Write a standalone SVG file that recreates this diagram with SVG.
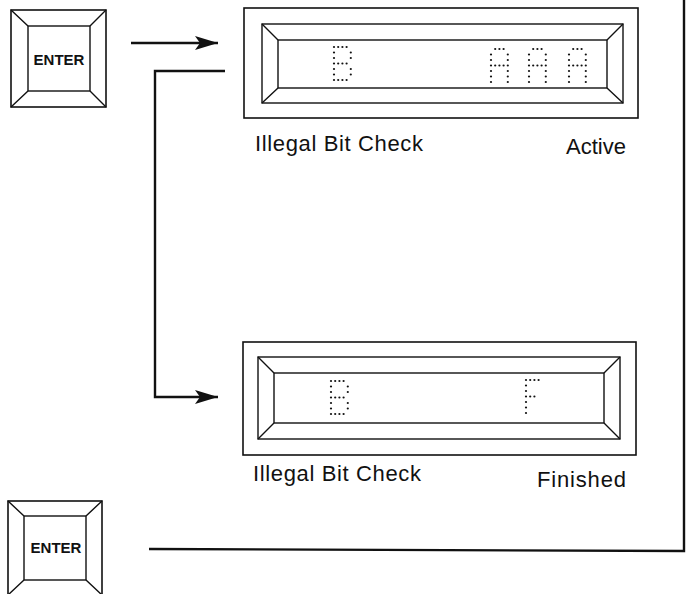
<svg xmlns="http://www.w3.org/2000/svg" xmlns:xlink="http://www.w3.org/1999/xlink" width="690" height="594" viewBox="0 0 690 594">
<style>
.bg{fill:#ffffff}
.ln{fill:none;stroke:#111;stroke-width:1.4}
.frame{fill:none;stroke:#111;stroke-width:1.6}
.conn{fill:none;stroke:#111;stroke-width:2.4}
.dot{fill:#111}
.key{font-family:"Liberation Sans",Arial,sans-serif;font-weight:bold;font-size:15px;fill:#111;text-anchor:middle}
.lbl{font-family:"Liberation Sans",Arial,sans-serif;font-size:22px;fill:#111}
</style>
<defs>
<marker id="ah" markerWidth="26" markerHeight="16" refX="23" refY="7" orient="auto" markerUnits="userSpaceOnUse">
<path d="M0,0 L23,7 L0,14 L5,7 Z" fill="#111"/>
</marker>
<g id="chB">
<circle class="dot" cx="0" cy="0" r="1.1"/><circle class="dot" cx="4.2" cy="0" r="1.1"/><circle class="dot" cx="8.4" cy="0" r="1.1"/><circle class="dot" cx="12.6" cy="0" r="1.1"/>
<circle class="dot" cx="0" cy="5.5" r="1.1"/><circle class="dot" cx="16.8" cy="5.5" r="1.1"/>
<circle class="dot" cx="0" cy="11" r="1.1"/><circle class="dot" cx="16.8" cy="11" r="1.1"/>
<circle class="dot" cx="0" cy="16.5" r="1.1"/><circle class="dot" cx="4.2" cy="16.5" r="1.1"/><circle class="dot" cx="8.4" cy="16.5" r="1.1"/><circle class="dot" cx="12.6" cy="16.5" r="1.1"/>
<circle class="dot" cx="0" cy="22" r="1.1"/><circle class="dot" cx="16.8" cy="22" r="1.1"/>
<circle class="dot" cx="0" cy="27.5" r="1.1"/><circle class="dot" cx="16.8" cy="27.5" r="1.1"/>
<circle class="dot" cx="0" cy="33" r="1.1"/><circle class="dot" cx="4.2" cy="33" r="1.1"/><circle class="dot" cx="8.4" cy="33" r="1.1"/><circle class="dot" cx="12.6" cy="33" r="1.1"/>
</g>
<g id="chA">
<circle class="dot" cx="4.2" cy="0" r="1.1"/><circle class="dot" cx="8.4" cy="0" r="1.1"/><circle class="dot" cx="12.6" cy="0" r="1.1"/>
<circle class="dot" cx="0" cy="5.5" r="1.1"/><circle class="dot" cx="16.8" cy="5.5" r="1.1"/>
<circle class="dot" cx="0" cy="11" r="1.1"/><circle class="dot" cx="16.8" cy="11" r="1.1"/>
<circle class="dot" cx="0" cy="16.5" r="1.1"/><circle class="dot" cx="4.2" cy="16.5" r="1.1"/><circle class="dot" cx="8.4" cy="16.5" r="1.1"/><circle class="dot" cx="12.6" cy="16.5" r="1.1"/><circle class="dot" cx="16.8" cy="16.5" r="1.1"/>
<circle class="dot" cx="0" cy="22" r="1.1"/><circle class="dot" cx="16.8" cy="22" r="1.1"/>
<circle class="dot" cx="0" cy="27.5" r="1.1"/><circle class="dot" cx="16.8" cy="27.5" r="1.1"/>
<circle class="dot" cx="0" cy="33" r="1.1"/><circle class="dot" cx="16.8" cy="33" r="1.1"/>
</g>
<g id="chF">
<circle class="dot" cx="0" cy="0" r="1.1"/><circle class="dot" cx="4.2" cy="0" r="1.1"/><circle class="dot" cx="8.4" cy="0" r="1.1"/><circle class="dot" cx="12.6" cy="0" r="1.1"/>
<circle class="dot" cx="0" cy="5.5" r="1.1"/>
<circle class="dot" cx="0" cy="11" r="1.1"/>
<circle class="dot" cx="0" cy="16.5" r="1.1"/><circle class="dot" cx="4.2" cy="16.5" r="1.1"/><circle class="dot" cx="8.4" cy="16.5" r="1.1"/>
<circle class="dot" cx="0" cy="22" r="1.1"/>
<circle class="dot" cx="0" cy="27.5" r="1.1"/>
<circle class="dot" cx="0" cy="33" r="1.1"/>
</g>
</defs>
<rect class="bg" x="0" y="0" width="690" height="594"/>

<g id="key-enter-top">
<rect class="frame" x="11" y="10" width="95" height="97"/>
<rect class="ln" x="28" y="26" width="62" height="65"/>
<path class="ln" d="M11,10 L28,26 M106,10 L90,26 M11,107 L28,91 M106,107 L90,91"/>
<text class="key" x="59" y="65">ENTER</text>
</g>

<g id="display-active">
<rect class="frame" x="244" y="8" width="394" height="110"/>
<rect class="ln" x="262" y="24" width="361" height="79"/>
<rect class="ln" x="278" y="40" width="329" height="48"/>
<path class="ln" d="M262,24 L278,40 M623,24 L607,40 M262,103 L278,88 M623,103 L607,88"/>
<use xlink:href="#chB" x="334" y="47"/>
<use xlink:href="#chA" x="491" y="49"/>
<use xlink:href="#chA" x="529" y="49"/>
<use xlink:href="#chA" x="569" y="49"/>
<text class="lbl" x="255" y="151" textLength="168" lengthAdjust="spacing">Illegal Bit Check</text>
<text class="lbl" x="566" y="154" textLength="60" lengthAdjust="spacing">Active</text>
</g>

<g id="display-finished">
<rect class="frame" x="243" y="342" width="393" height="113"/>
<rect class="ln" x="258" y="357" width="362" height="82"/>
<rect class="ln" x="274" y="373" width="330" height="50"/>
<path class="ln" d="M258,357 L274,373 M620,357 L604,373 M258,439 L274,423 M620,439 L604,423"/>
<use xlink:href="#chB" x="331" y="381"/>
<use xlink:href="#chF" x="526" y="380"/>
<text class="lbl" x="253" y="481" textLength="168" lengthAdjust="spacing">Illegal Bit Check</text>
<text class="lbl" x="537" y="487" textLength="89" lengthAdjust="spacing">Finished</text>
</g>

<g id="key-enter-bottom">
<rect class="frame" x="8" y="501" width="94" height="94"/>
<rect class="ln" x="24" y="516" width="62" height="64"/>
<path class="ln" d="M8,501 L24,516 M102,501 L86,516 M8,595 L24,580 M102,595 L86,580"/>
<text class="key" x="56" y="553">ENTER</text>
</g>

<g id="connectors">
<path class="conn" d="M131,43 L218,43" marker-end="url(#ah)"/>
<path class="conn" d="M225,71 L155,71 L155,397 L218,397" marker-end="url(#ah)"/>
<path class="conn" d="M684,0 L684,551 L149,549"/>
</g>
</svg>
